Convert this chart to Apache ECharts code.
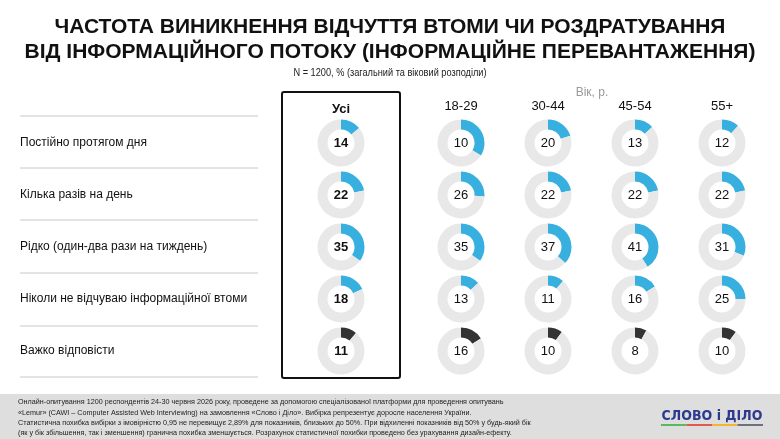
<!DOCTYPE html>
<html>
<head>
<meta charset="utf-8">
<script src="https://cdn.jsdelivr.net/npm/echarts@6/dist/echarts.min.js"></script>
<style>
  html, body { margin: 0; padding: 0; background: #fff; }
  #chart { width: 780px; height: 439px; }
</style>
</head>
<body>
<div id="chart"></div>
<script>
  // answer options (rows)
  var answers = ['Постійно протягом дня', 'Кілька разів на день', 'Рідко (один-два рази на тиждень)',
    'Ніколи не відчуваю інформаційної втоми', 'Важко відповісти'];
  // columns: total + age groups
  var groups = ['Усі', '18-29', '30-44', '45-54', '55+'];

  // printed numbers, per column (same order as answers)
  var valAll = [14, 22, 35, 18, 11];
  var val1829 = [10, 26, 35, 13, 16];
  var val3044 = [20, 22, 37, 11, 10];
  var val4554 = [13, 22, 41, 16, 8];
  var val55 = [12, 22, 31, 25, 10];

  // arc sizes as drawn (18-29 first row is drawn bigger than its label)
  var arcAll = [14, 22, 35, 18, 11];
  var arc1829 = [34, 26, 35, 13, 16];
  var arc3044 = [20, 22, 37, 11, 10];
  var arc4554 = [13, 22, 41, 16, 8];
  var arc55 = [12, 22, 31, 25, 10];

  var labelCols = [valAll, val1829, val3044, val4554, val55];
  var arcCols = [arcAll, arc1829, arc3044, arc4554, arc55];

  var titleLines = ['ЧАСТОТА ВИНИКНЕННЯ ВІДЧУТТЯ ВТОМИ ЧИ РОЗДРАТУВАННЯ',
    'ВІД ІНФОРМАЦІЙНОГО ПОТОКУ (ІНФОРМАЦІЙНЕ ПЕРЕВАНТАЖЕННЯ)'];

  var footLines = [
    'Онлайн-опитування 1200 респондентів 24-30 червня 2026 року, проведене за допомогою спеціалізованої платформи для проведення опитувань',
    '«Lemur» (CAWI – Computer Assisted Web Interviewing) на замовлення «Слово і Діло». Вибірка репрезентує доросле населення України.',
    'Статистична похибка вибірки з імовірністю 0,95 не перевищує 2,89% для показників, близьких до 50%. При відхиленні показників від 50% у будь-який бік',
    '(як у бік збільшення, так і зменшення) гранична похибка зменшується. Розрахунок статистичної похибки проведено без урахування дизайн-ефекту.'
  ];

  var colX = [341, 461, 548, 635, 722];
  var rowY = [143, 195, 247, 299, 351];
  var sepY = [116, 168, 220, 273, 326, 377];

  var series = [];
  var graphic = [];

  for (var c = 0; c < groups.length; c++) {
    for (var r = 0; r < answers.length; r++) {
      var isLast = r === answers.length - 1;
      series.push({
        type: 'pie',
        radius: [13.5, 23.5],
        center: [colX[c], rowY[r]],
        startAngle: 90,
        clockwise: true,
        silent: true,
        itemStyle: { borderWidth: 0 },
        labelLine: { show: false },
        emphasis: { disabled: true },
        data: [
          {
            value: arcCols[c][r],
            name: String(labelCols[c][r]),
            itemStyle: { color: isLast ? '#333333' : '#37afdf' },
            label: {
              show: true,
              position: 'center',
              formatter: String(labelCols[c][r]),
              fontFamily: 'Liberation Sans, Arial, sans-serif',
              fontSize: 13,
              fontWeight: c === 0 ? 'bold' : 'normal',
              color: '#111'
            }
          },
          {
            value: 100 - arcCols[c][r],
            name: 'rest',
            itemStyle: { color: '#e8e8e8' },
            label: { show: false }
          }
        ]
      });
    }
  }

  // title
  for (var t = 0; t < titleLines.length; t++) {
    graphic.push({
      type: 'text', x: 390, y: 27 + t * 25,
      style: {
        text: titleLines[t],
        font: 'bold 21px "Liberation Sans", Arial, sans-serif',
        fill: '#111', align: 'center', verticalAlign: 'middle'
      }
    });
  }
  graphic.push({
    type: 'text', x: 390, y: 73, scaleX: 0.92,
    style: {
      text: 'N = 1200, % (загальний та віковий розподіли)',
      font: '10px "Liberation Sans", Arial, sans-serif',
      fill: '#222', align: 'center', verticalAlign: 'middle'
    }
  });

  // separators and row labels
  for (var i = 0; i < sepY.length; i++) {
    graphic.push({
      type: 'line', silent: true,
      shape: { x1: 20, y1: sepY[i], x2: 258, y2: sepY[i] },
      style: { stroke: '#c8c8c8', lineWidth: 1 }
    });
  }
  for (var j = 0; j < answers.length; j++) {
    graphic.push({
      type: 'text', x: 20, y: rowY[j],
      style: {
        text: answers[j], font: '12px "Liberation Sans", Arial, sans-serif',
        fill: '#111', verticalAlign: 'middle'
      }
    });
  }

  // highlight box for total column
  graphic.push({
    type: 'rect', silent: true,
    shape: { x: 282, y: 92, width: 118, height: 286, r: 2 },
    style: { fill: 'none', stroke: '#111', lineWidth: 2 }
  });

  // column headers
  for (var k = 0; k < groups.length; k++) {
    graphic.push({
      type: 'text', x: colX[k], y: k === 0 ? 109 : 106,
      style: {
        text: groups[k],
        font: (k === 0 ? 'bold ' : '') + '13px "Liberation Sans", Arial, sans-serif',
        fill: '#111', align: 'center', verticalAlign: 'middle'
      }
    });
  }
  graphic.push({
    type: 'text', x: 592, y: 93,
    style: {
      text: 'Вік, р.', font: '12px "Liberation Sans", Arial, sans-serif',
      fill: '#9a9a9a', align: 'center', verticalAlign: 'middle'
    }
  });

  // footer band
  graphic.push({
    type: 'rect', silent: true, z: -1,
    shape: { x: 0, y: 394, width: 780, height: 45 },
    style: { fill: '#dedede' }
  });
  for (var f = 0; f < footLines.length; f++) {
    graphic.push({
      type: 'text', x: 18, y: 402 + f * 10.3, scaleX: 0.9,
      style: {
        text: footLines[f], font: '8px "Liberation Sans", Arial, sans-serif',
        fill: '#222', verticalAlign: 'middle'
      }
    });
  }

  // logo
  graphic.push({
    type: 'text', x: 712, y: 416, scaleX: 0.9,
    style: {
      text: 'СЛОВО і ДІЛО', font: 'bold 14px "DejaVu Sans", sans-serif',
      fill: '#2b3a8f', align: 'center', verticalAlign: 'middle'
    }
  });
  var logoCols = ['#5cb85c', '#e05a4f', '#f2b632', '#6b7180'];
  for (var q = 0; q < logoCols.length; q++) {
    graphic.push({
      type: 'rect', silent: true,
      shape: { x: 661 + q * 25.5, y: 424, width: 25.5, height: 2 },
      style: { fill: logoCols[q] }
    });
  }

  var myChart = echarts.init(document.getElementById('chart'));
  myChart.setOption({
    animation: false,
    backgroundColor: '#fff',
    graphic: graphic,
    series: series
  });
</script>
</body>
</html>
